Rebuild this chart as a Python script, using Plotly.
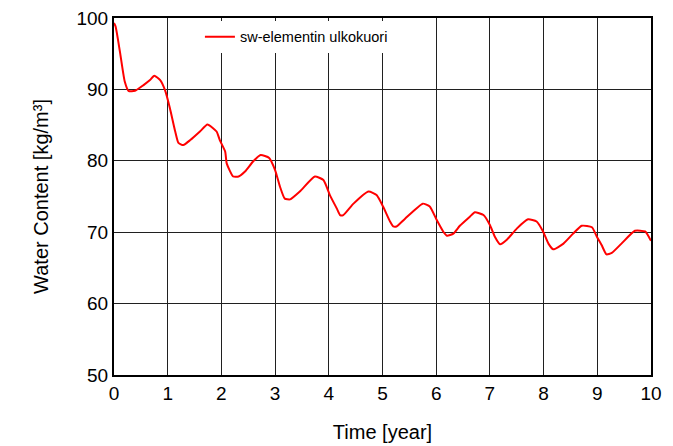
import plotly.graph_objects as go

time_year = [0.0, 0.03, 0.11, 0.2, 0.27, 0.39, 0.55, 0.67, 0.75, 0.86, 0.95, 1.04, 1.14, 1.2, 1.29,
             1.42, 1.6, 1.74, 1.91, 1.97, 2.07, 2.1, 2.22, 2.32, 2.44, 2.59, 2.73, 2.89, 3.0, 3.09,
             3.18, 3.28, 3.46, 3.74, 3.9, 4.02, 4.15, 4.21, 4.27, 4.46, 4.74, 4.89, 5.01, 5.14,
             5.2, 5.26, 5.42, 5.75, 5.88, 6.01, 6.13, 6.2, 6.32, 6.44, 6.63, 6.72, 6.88, 7.0,
             7.09, 7.19, 7.31, 7.5, 7.71, 7.87, 7.99, 8.09, 8.18, 8.37, 8.55, 8.71, 8.9, 8.99,
             9.08, 9.17, 9.27, 9.45, 9.7, 9.89, 9.97, 10.0]
water_content = [99.3, 98.8, 95.3, 91.1, 89.8, 89.8, 90.6, 91.3, 91.9, 91.3, 89.9, 87.4, 84.1, 82.5, 82.2,
                 82.9, 84.1, 85.1, 84.1, 82.9, 81.3, 79.6, 77.8, 77.8, 78.5, 79.9, 80.8, 80.4, 78.7, 76.4,
                 74.7, 74.6, 75.7, 77.8, 77.3, 75.2, 73.3, 72.4, 72.4, 74.0, 75.7, 75.2, 73.6, 71.5,
                 70.8, 70.8, 71.9, 74.0, 73.6, 71.7, 70.1, 69.5, 69.8, 70.9, 72.2, 72.8, 72.4, 71.0,
                 69.4, 68.3, 68.9, 70.5, 71.8, 71.5, 70.1, 68.4, 67.6, 68.4, 69.8, 70.9, 70.7, 69.4,
                 68.2, 66.9, 67.1, 68.4, 70.2, 70.1, 69.2, 68.8]

x_ticks = list(range(0, 11))
y_ticks = [50, 60, 70, 80, 90, 100]
series_name = "sw-elementin ulkokuori"

fig = go.Figure()
fig.add_trace(go.Scatter(x=time_year, y=water_content, mode="lines", name=series_name,
                         line=dict(color="#ff0000", width=2, shape="spline", smoothing=0.5)))

font_family = "Liberation Sans, Arial, sans-serif"
fig.update_layout(
    width=673, height=446,
    margin=dict(l=114, r=22, t=18, b=71, autoexpand=False),
    paper_bgcolor="white", plot_bgcolor="white",
    font=dict(family=font_family, color="black", size=19),
    showlegend=True,
    legend=dict(x=0.16, y=0.992, xanchor="left", yanchor="top", bgcolor="white",
                borderwidth=0, font=dict(size=14.5, family=font_family),
                tracegroupgap=0, itemwidth=30),
)
fig.update_xaxes(range=[0, 10], tickvals=x_ticks, ticktext=[str(v) for v in x_ticks],
                 showgrid=True, gridcolor="#202020", gridwidth=1,
                 showline=True, linecolor="black", linewidth=2, mirror=True,
                 ticks="", zeroline=False, tickfont=dict(size=19), automargin=False,
                 title=dict(text="Time [year]", font=dict(size=20), standoff=22))
fig.update_yaxes(range=[50, 100], tickvals=y_ticks, ticktext=[str(v) for v in y_ticks],
                 showgrid=True, gridcolor="#202020", gridwidth=1,
                 showline=True, linecolor="black", linewidth=2, mirror=True,
                 ticks="", zeroline=False, tickfont=dict(size=19), automargin=False,
                 title=dict(text="Water Content [kg/m³]", font=dict(size=20), standoff=22))

fig.write_html("out.html", post_script="document.body.style.margin='0';",
               config={"displayModeBar": False})
